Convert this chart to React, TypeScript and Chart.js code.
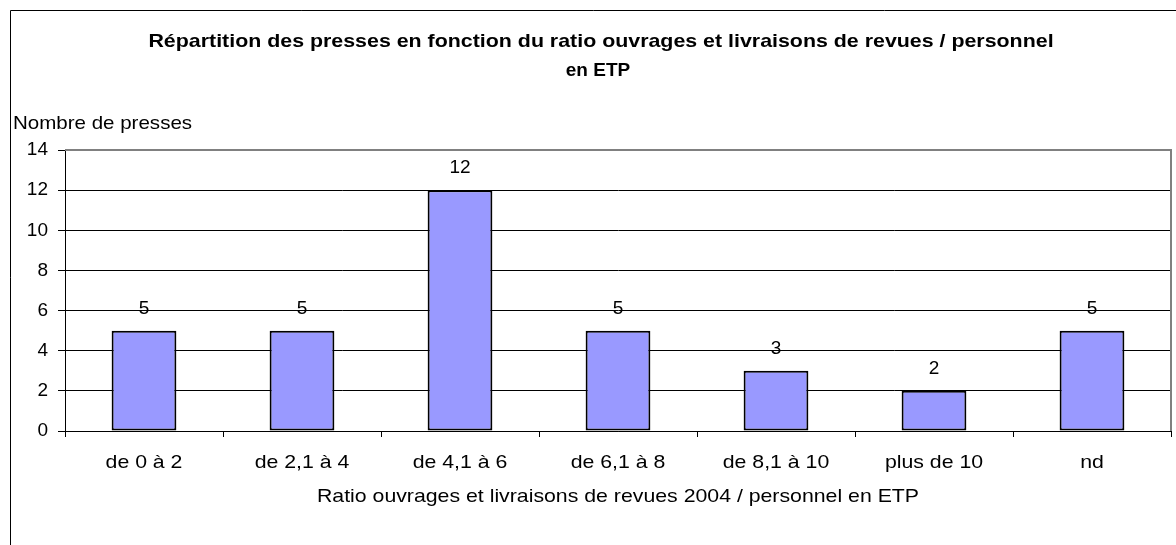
import React, { useEffect, useRef } from "react";
import { Chart, registerables } from "chart.js";

Chart.register(...registerables);

const categories = ["de 0 à 2", "de 2,1 à 4", "de 4,1 à 6", "de 6,1 à 8", "de 8,1 à 10", "plus de 10", "nd"];
const counts = [5, 5, 12, 5, 3, 2, 5];
const yTickValues = [0, 2, 4, 6, 8, 10, 12, 14];
const titleLines = [
  "Répartition des presses en fonction du ratio ouvrages et livraisons de revues / personnel",
  "en ETP",
];
const yAxisTitle = "Nombre de presses";
const xAxisTitle = "Ratio ouvrages et livraisons de revues 2004 / personnel en ETP";

const FONT = '"Liberation Sans", Arial, sans-serif';

// draws text with a slight horizontal stretch (mimics the wider rendering of the original)
function drawText(ctx: any, text: string, x: number, y: number, font: string, align: string, sx: number) {
  ctx.save();
  ctx.font = font;
  ctx.textAlign = align;
  ctx.textBaseline = "alphabetic";
  ctx.fillStyle = "#000000";
  ctx.translate(x, y);
  ctx.scale(sx, 1);
  ctx.fillText(text, 0, 0);
  ctx.restore();
}

const decorPlugin = {
  id: "decor",
  beforeDraw(chart: any) {
    const { ctx, width, height, chartArea } = chart;
    ctx.save();
    ctx.fillStyle = "#ffffff";
    ctx.fillRect(0, 0, width, height);
    ctx.strokeStyle = "#000000";
    ctx.lineWidth = 1;
    ctx.beginPath();
    ctx.moveTo(10.5, height);
    ctx.lineTo(10.5, 10.5);
    ctx.lineTo(width, 10.5);
    ctx.stroke();
    ctx.restore();
    drawText(ctx, titleLines[0], 601, 47, `bold 19px ${FONT}`, "center", 1.125);
    drawText(ctx, titleLines[1], 598, 76, `bold 19px ${FONT}`, "center", 1.0);
    drawText(ctx, yAxisTitle, 13, 129, `19px ${FONT}`, "left", 1.08);
    drawText(ctx, xAxisTitle, (chartArea.left + chartArea.right) / 2, 502, `19px ${FONT}`, "center", 1.12);
  },
  afterDatasetsDraw(chart: any) {
    const { ctx } = chart;
    const meta = chart.getDatasetMeta(0);
    meta.data.forEach((bar: any, i: number) => {
      drawText(ctx, String(counts[i]), bar.x, bar.y - 17, `19px ${FONT}`, "center", 1.0);
    });
  },
  afterDraw(chart: any) {
    const { ctx, chartArea } = chart;
    ctx.save();
    ctx.strokeStyle = "#808080";
    ctx.lineWidth = 2;
    ctx.beginPath();
    ctx.moveTo(chartArea.left, chartArea.top);
    ctx.lineTo(chartArea.right, chartArea.top);
    ctx.lineTo(chartArea.right, chartArea.bottom);
    ctx.stroke();
    ctx.restore();
    const xScale = chart.scales.x;
    categories.forEach((label, i) => {
      drawText(ctx, label, xScale.getPixelForValue(i), 468, `19px ${FONT}`, "center", 1.12);
    });
  },
};

export default function App() {
  const canvasRef = useRef<HTMLCanvasElement | null>(null);

  useEffect(() => {
    const canvas = canvasRef.current;
    if (!canvas) return;
    const chart = new Chart(canvas, {
      type: "bar",
      data: {
        labels: categories,
        datasets: [
          {
            data: counts,
            backgroundColor: "#9999FF",
            borderColor: "#000000",
            borderWidth: 2,
            borderSkipped: false,
            barPercentage: 0.41,
            categoryPercentage: 1,
          },
        ],
      },
      options: {
        responsive: false,
        animation: false,
        devicePixelRatio: 1,
        layout: { padding: { top: 150, right: 5, left: 0, bottom: 0 } },
        plugins: {
          legend: { display: false },
          title: { display: false },
          tooltip: { enabled: false },
        },
        scales: {
          x: {
            offset: true,
            grid: {
              offset: true,
              drawOnChartArea: false,
              drawTicks: true,
              tickLength: 6,
              color: "#000000",
            },
            border: { display: true, color: "#000000", width: 1 },
            ticks: {
              display: false,
              autoSkip: false,
              maxRotation: 0,
            },
            afterFit(scale: any) {
              scale.height = 114;
            },
          },
          y: {
            min: 0,
            max: 14,
            afterBuildTicks(scale: any) {
              scale.ticks = yTickValues.map((v) => ({ value: v }));
            },
            grid: {
              color: "#000000",
              lineWidth: 1,
              drawTicks: true,
              tickLength: 7,
            },
            border: { display: true, color: "#000000", width: 1 },
            ticks: {
              color: "#000000",
              font: { family: FONT, size: 19 },
              padding: 10,
            },
            afterFit(scale: any) {
              scale.width = 65;
            },
          },
        },
      },
      plugins: [decorPlugin],
    });
    return () => chart.destroy();
  }, []);

  return (
    <div style={{ position: "fixed", left: 0, top: 0, width: 1176, height: 545, background: "#fff" }}>
      <canvas ref={canvasRef} width={1176} height={545} style={{ display: "block", width: 1176, height: 545 }} />
    </div>
  );
}
